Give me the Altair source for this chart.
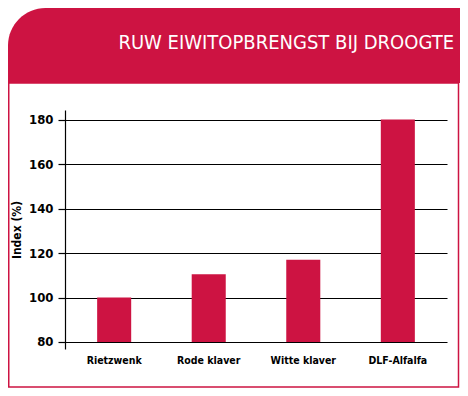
import altair as alt
import pandas as pd

categories = ["Rietzwenk", "Rode klaver", "Witte klaver", "DLF-Alfalfa"]
values = [100, 110.5, 117, 180]
y_ticks = [80, 100, 120, 140, 160, 180]
title_text = "RUW EIWITOPBRENGST BIJ DROOGTE"
y_title = "Index (%)"

CRIMSON = "#CD1342"
COND = "'Liberation Sans Narrow', 'DejaVu Sans Condensed', 'Roboto', sans-serif"
BOLD = "'DejaVu Sans Condensed', 'Liberation Sans', sans-serif"

df = pd.DataFrame({"cat": categories, "val": values})
one = pd.DataFrame({"k": [0]})

banner = alt.Chart(one).mark_rect(color=CRIMSON, cornerRadiusTopLeft=68).encode(
    x=alt.value(-57), x2=alt.value(395), y=alt.value(-102), y2=alt.value(-27)
)
border = alt.Chart(one).mark_rect(
    fill="white", fillOpacity=0, stroke=CRIMSON, strokeWidth=1.5
).encode(x=alt.value(-56.25), x2=alt.value(393.5), y=alt.value(-27), y2=alt.value(277))

title = alt.Chart(one).mark_text(
    text=title_text, align="right", baseline="middle", font=COND,
    fontSize=20, color="white"
).encode(x=alt.value(389), y=alt.value(-67))

bars = alt.Chart(df).mark_bar(color=CRIMSON).encode(
    x=alt.X("cat:N", sort=categories,
            scale=alt.Scale(paddingInner=0.64, paddingOuter=0.34),
            axis=alt.Axis(title=None, labelAngle=0, domain=False, ticks=False,
                          labelPadding=6, labelFont=COND, labelFontSize=10.5,
                          labelFontWeight="bold", labelColor="black")),
    y=alt.Y("val:Q",
            scale=alt.Scale(domain=[76.85, 184.3], nice=False, zero=False),
            axis=alt.Axis(title=y_title, values=y_ticks, grid=True,
                          gridColor="black", gridOpacity=1, gridWidth=1.2,
                          domainColor="black", domainWidth=1.2,
                          tickColor="black", tickSize=7, tickWidth=1.2,
                          labelPadding=5, labelFont=BOLD, labelFontSize=13,
                          labelFontWeight="bold", labelColor="black",
                          titleFont=COND, titleFontSize=12, titleFontWeight="bold",
                          titleColor="black", titlePadding=5)),
    y2=alt.datum(80),
)

chart = alt.layer(banner, border, bars, title).properties(
    width=382, height=239,
    padding={"left": 57, "top": 102, "right": 13, "bottom": 39},
    autosize=alt.AutoSizeParams(type="none"),
    background="white",
).configure_view(stroke=None)

chart.save("out.html", embed_options={"renderer": "svg", "actions": False})
